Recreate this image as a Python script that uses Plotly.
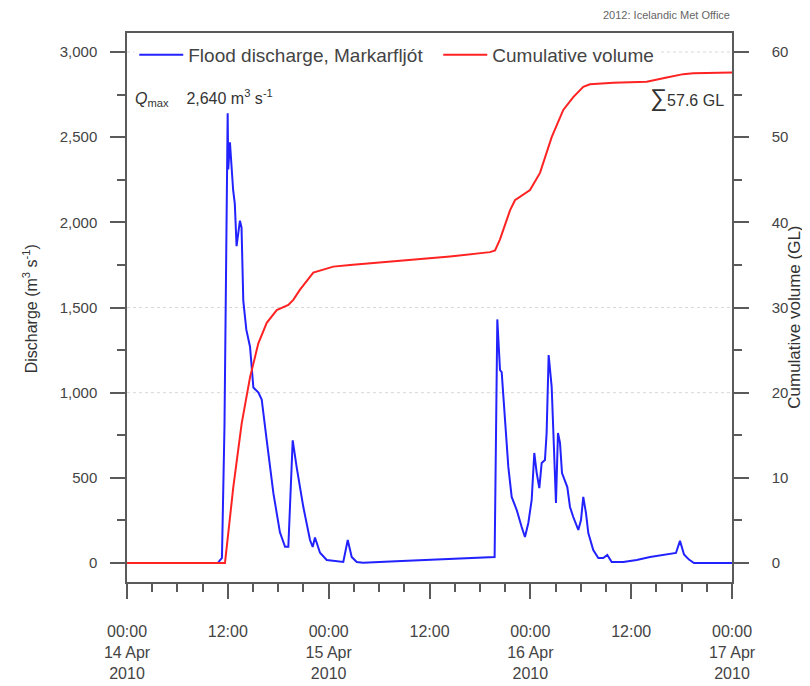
import pandas as pd
import plotly.graph_objects as go

# hours since 14 Apr 2010 00:00 and discharge (m3/s), Markarfljot
q_hours = [0, 10.8, 11.3, 11.6, 11.98, 12.05, 12.25, 12.63, 12.83, 13.04, 13.44, 13.63,
           13.84, 14.2, 14.64, 15.04, 15.64, 16.03, 16.63, 17.42, 18.2, 18.81, 19.2, 19.4,
           19.72, 20.2, 20.98, 21.78, 22.1, 22.37, 22.97, 23.77, 25.74, 26.27, 26.74, 27.34,
           28.1, 32.0, 36.0, 40.0, 43.75, 44.07, 44.39, 44.59, 44.98, 45.38, 45.78, 46.38,
           46.97, 47.36, 47.76, 48.16, 48.47, 48.76, 49.07, 49.35, 49.74, 49.94, 50.18,
           50.54, 50.82, 51.05, 51.29, 51.53, 51.77, 52.13, 52.4, 52.72, 53.11, 53.71,
           54.03, 54.3, 54.62, 54.9, 55.49, 56.09, 56.68, 57.16, 57.68, 59.06, 60.66,
           62.24, 65.33, 65.81, 66.29, 66.88, 67.48, 72]
q_values = [0, 0, 30, 800, 2640, 2310, 2470, 2190, 2110, 1860, 2010, 1970,
            1540, 1370, 1270, 1030, 1000, 960, 720, 410, 180, 95, 95, 370,
            720, 560, 330, 135, 94, 150, 60, 18, 6, 135, 35, 6,
            2, 10, 20, 28, 35, 1430, 1133, 1120, 857, 564, 388, 311,
            211, 153, 235, 370, 646, 528, 440, 587, 605, 763, 1221,
            1033, 663, 352, 763, 705, 528, 487, 446, 329, 270, 194,
            252, 388, 294, 176, 76, 29, 29, 47, 6, 6, 18,
            35, 59, 130, 50, 20, 0, 0]

# cumulative volume (GL)
v_hours = [0, 11.66, 12.65, 13.65, 14.64, 15.63, 16.63, 17.82, 19.2, 19.79, 20.59, 22.17,
           24.55, 26.54, 32.49, 38.44, 43.2, 43.8, 44.39, 45.58, 46.17, 47.96, 49.15,
           50.54, 51.92, 53.11, 54.3, 55.1, 57.87, 61.85, 64.23, 66.2, 67.39, 72]
v_values = [0, 0, 8.9, 16.4, 21.8, 25.8, 28.2, 29.7, 30.3, 30.9, 32.1, 34.1,
            34.8, 35.0, 35.5, 36.0, 36.5, 36.7, 38.0, 41.4, 42.6, 43.8, 45.8,
            50.0, 53.2, 54.7, 55.9, 56.2, 56.4, 56.5, 57.0, 57.4, 57.5, 57.6]

tick_hours = [0, 12, 24, 36, 48, 60, 72]
tick_text = ["00:00<br>14 Apr<br>2010", "12:00", "00:00<br>15 Apr<br>2010", "12:00",
             "00:00<br>16 Apr<br>2010", "12:00", "00:00<br>17 Apr<br>2010"]

start = pd.Timestamp("2010-04-14 00:00")
q_time = start + pd.to_timedelta(q_hours, unit="h")
v_time = start + pd.to_timedelta(v_hours, unit="h")
tick_time = start + pd.to_timedelta(tick_hours, unit="h")

font_family = "Liberation Sans, Arial, sans-serif"
axis_col = "#5a5a5a"

fig = go.Figure()

fig.add_trace(go.Scatter(x=q_time, y=q_values, mode="lines",
                         name="Flood discharge, Markarfljót\u00a0\u00a0",
                         line=dict(color="#2222ff", width=2)))
fig.add_trace(go.Scatter(x=v_time, y=v_values, mode="lines", name="Cumulative volume",
                         line=dict(color="#ff2222", width=2), yaxis="y2"))

# faint dotted guide lines
for lvl in [1000, 1500, 3000]:
    fig.add_shape(type="line", xref="paper", x0=0, x1=1, yref="y", y0=lvl, y1=lvl,
                  line=dict(color="#d8d8d8", width=1, dash="dot"), layer="below")

# page body has an 8px margin, so the figure is a little smaller than the window
fig.update_layout(
    width=802, height=678,
    margin=dict(l=119, r=78, t=25, b=104, autoexpand=False),
    paper_bgcolor="white", plot_bgcolor="white",
    font=dict(family=font_family, size=15, color="#444"),
    showlegend=True,
    legend=dict(orientation="h", x=0.012, xanchor="left", y=0.96, yanchor="middle",
                bgcolor="white", font=dict(size=19, color="#444"), itemwidth=44,
                traceorder="normal"),
    xaxis=dict(
        range=[start, start + pd.Timedelta(hours=72)], automargin=False,
        tickmode="array", tickvals=tick_time, ticktext=tick_text,
        ticks="outside", ticklen=15, tickcolor=axis_col, tickwidth=1.5,
        showline=True, linecolor=axis_col, linewidth=1.5, mirror=True,
        showgrid=False, zeroline=False,
        tickfont=dict(size=16, color="#444"), ticklabelstandoff=19,
        minor=dict(tickmode="linear", tick0=start, dtick=3 * 3600 * 1000,
                   ticks="outside", ticklen=8, tickcolor=axis_col, showgrid=False),
    ),
    yaxis=dict(
        range=[-111.5, 3111.5], tickmode="linear", tick0=0, dtick=500, tickformat=",",
        automargin=False,
        ticks="outside", ticklen=15, tickcolor=axis_col, tickwidth=1.5,
        showline=True, linecolor=axis_col, linewidth=1.5, mirror=True,
        showgrid=False, zeroline=False, ticklabelstandoff=10,
        tickfont=dict(size=15, color="#444"),
        minor=dict(tickmode="linear", tick0=0, dtick=250, ticks="outside", ticklen=8,
                   tickcolor=axis_col, showgrid=False),
    ),
    yaxis2=dict(
        range=[-2.23, 62.23], overlaying="y", side="right", automargin=False,
        tickmode="linear", tick0=0, dtick=10,
        ticks="outside", ticklen=15, tickcolor=axis_col, tickwidth=1.5,
        showline=True, linecolor=axis_col, linewidth=1.5,
        showgrid=False, zeroline=False, ticklabelstandoff=20,
        tickfont=dict(size=15, color="#444"),
        minor=dict(tickmode="linear", tick0=0, dtick=5, ticks="outside", ticklen=8,
                   tickcolor=axis_col, showgrid=False),
    ),
)

# axis titles placed as rotated annotations
fig.add_annotation(xref="paper", yref="paper", x=-0.160, y=0.497, xanchor="center", yanchor="middle",
                   text="Discharge (m<sup>3</sup> s<sup>-1</sup>)", textangle=-90,
                   showarrow=False, font=dict(size=16, color="#333"))
fig.add_annotation(xref="paper", yref="paper", x=1.104, y=0.483, xanchor="center", yanchor="middle",
                   text="Cumulative volume (GL)", textangle=-90,
                   showarrow=False, font=dict(size=17, color="#333"))

fig.add_annotation(xref="paper", yref="paper", x=0.01, y=0.882, xanchor="left", yanchor="middle",
                   text="<i>Q</i><sub>max</sub>\u00a0\u00a0\u00a0\u00a02,640 m<sup>3</sup> s<sup>-1</sup>",
                   showarrow=False, font=dict(size=16, color="#333"))
fig.add_annotation(xref="paper", yref="paper", x=0.99, y=0.882, xanchor="right", yanchor="middle",
                   text="<span style='font-size:24px'>∑</span>57.6 GL",
                   showarrow=False, font=dict(size=16, color="#333"))
fig.add_annotation(xref="paper", yref="paper", x=1.0, y=1.033, xanchor="right", yanchor="middle",
                   text="2012: Icelandic Met Office",
                   showarrow=False, font=dict(size=11, color="#666"))

fig.write_html("out.html")
